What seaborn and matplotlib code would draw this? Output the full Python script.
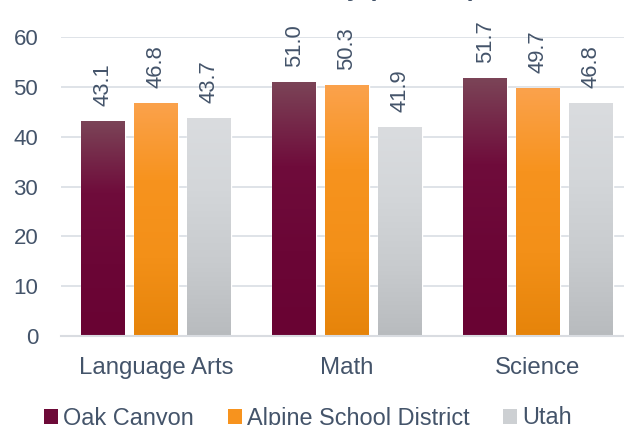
import numpy as np
import pandas as pd
import matplotlib
matplotlib.use("Agg")
import matplotlib.pyplot as plt
import seaborn as sns
from matplotlib.colors import LinearSegmentedColormap
from matplotlib.patches import Patch

# Chart data
subjects = ["Language Arts", "Math", "Science"]
groups = ["Oak Canyon", "Alpine School District", "Utah"]
oak_canyon = [43.1, 51.0, 51.7]
alpine = [46.8, 50.3, 49.7]
utah = [43.7, 41.9, 46.8]

df = pd.DataFrame({
    "Subject": subjects * 3,
    "Group": np.repeat(groups, len(subjects)),
    "Percent": oak_canyon + alpine + utah,
})

# bottom -> top gradient stops for each series
gradients = {
    "Oak Canyon": ["#690333", "#6b0636", "#6f0c3b", "#7b4457"],
    "Alpine School District": ["#e6840a", "#f39018", "#f7931e", "#fba24c"],
    "Utah": ["#b8bbbe", "#c8cbce", "#d3d6d9", "#dadcdf"],
}
solid = {"Oak Canyon": "#6d0a38", "Alpine School District": "#f7931e", "Utah": "#cdd0d3"}
text_color = "#44546a"

sns.set_theme(style="white")
plt.rcParams["font.family"] = ["Liberation Sans", "DejaVu Sans"]

fig, ax = plt.subplots(figsize=(6.24, 4.25), dpi=100)
ax.set_position([60.5 / 624, 89 / 425, 573 / 624, 299 / 425])

sns.barplot(data=df, x="Subject", y="Percent", hue="Group", order=subjects,
            hue_order=groups, palette=solid, width=0.83, gap=0.17,
            legend=False, ax=ax, errorbar=None)

# vertical gradient fill clipped to each bar
grad = np.linspace(0, 1, 256).reshape(-1, 1)
for container, group in zip(ax.containers, groups):
    cmap = LinearSegmentedColormap.from_list(group, gradients[group])
    for bar in container:
        x0, y0 = bar.get_x(), bar.get_y()
        im = ax.imshow(grad, cmap=cmap, origin="lower", aspect="auto",
                       extent=[x0, x0 + bar.get_width(), y0, y0 + bar.get_height()],
                       zorder=bar.get_zorder() + 0.1)
        im.set_clip_path(bar)
    ax.bar_label(container, fmt="%.1f", rotation=90, padding=11,
                 fontsize=15.8, color=text_color)

ax.set_xlim(-0.5, 2.5)
ax.set_ylim(0, 60)
ax.set_yticks(range(0, 61, 10))
ax.set_xlabel("")
ax.set_ylabel("")
ax.yaxis.grid(True, color="#dfe3e8", linewidth=1.4)
ax.set_axisbelow(True)
for side in ["left", "right", "top"]:
    ax.spines[side].set_visible(False)
ax.spines["bottom"].set_color("#d9dce1")
ax.spines["bottom"].set_linewidth(1.5)
ax.tick_params(axis="y", length=0, pad=16, labelsize=16, labelcolor=text_color)
ax.tick_params(axis="x", length=0, pad=15, labelsize=17.3, labelcolor=text_color)

# title mostly above the visible area, as in the source image
fig.text(476 / 624, 1 + 4 / 425, "Proficiency (2018-19)", ha="right", va="baseline",
         fontsize=18, fontweight="bold", color=text_color)

handles = [Patch(facecolor=solid[g], edgecolor="none") for g in groups]
fig.legend(handles, groups, loc="center", bbox_to_anchor=(308 / 624, 7 / 425),
           ncol=3, frameon=False, fontsize=16.9, handlelength=0.6, handleheight=0.6,
           handletextpad=0.2, columnspacing=1.45, labelcolor=text_color)

fig.savefig("out.png", dpi=100)
